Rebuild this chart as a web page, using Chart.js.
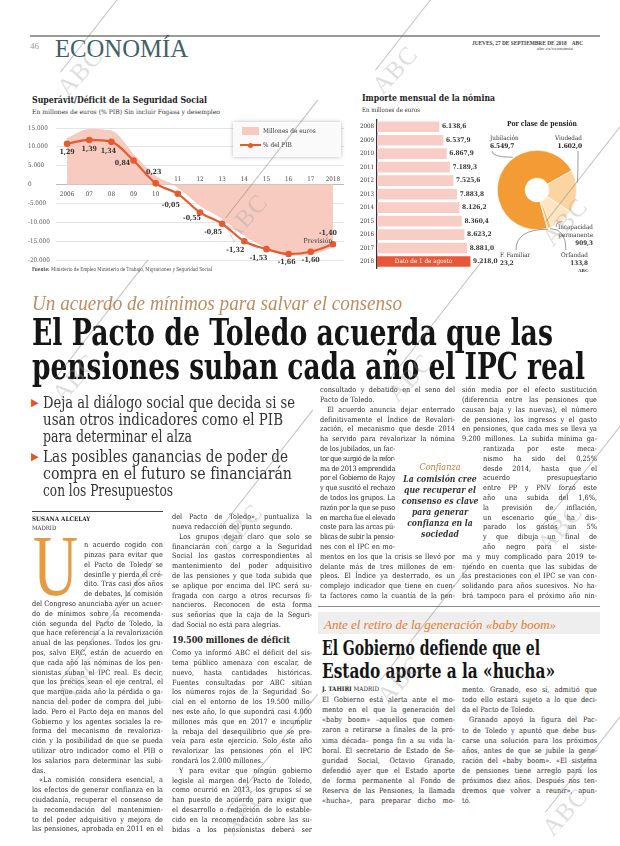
<!DOCTYPE html>
<html lang="es">
<head>
<meta charset="utf-8">
<title>ABC Economía 46</title>
<script src="https://cdn.jsdelivr.net/npm/chart.js@4.4.1/dist/chart.umd.min.js"></script>
<style>
  html, body { margin: 0; padding: 0; background: #fff; }
  #page { position: relative; width: 620px; height: 846px; overflow: hidden; background: #fff; color: #222;
    font-family: "DejaVu Serif Condensed", "DejaVu Serif", serif; }
  .t { position: absolute; white-space: nowrap; line-height: 1; }
  .fit { transform-origin: 0 50%; }
  .line { position: absolute; white-space: nowrap; font-size: 7.3px; line-height: 9.8px; color: #2a2a2a; }
  .line.just { text-align: justify; text-align-last: justify; }
  canvas { position: absolute; }
  .wm { position: absolute; width: 0; height: 0; }
  .wm span { position: absolute; left: 0; top: 0; transform: translate(-50%, -50%) rotate(-48deg);
    font: 25px "Liberation Serif", serif; color: rgba(160,160,160,0.35); letter-spacing: 1px; }
  .wm i { position: absolute; left: -20px; top: 0; width: 150px; height: 0; border-top: 0.7px solid rgba(120,120,120,0.45);
    transform-origin: 0 0; transform: rotate(-52deg); }
</style>
</head>
<body>
<div id="page">
  <!-- cabecera -->
  <div style="position:absolute;left:30px;top:35px;width:570px;height:1.5px;background:#9a9a9a"></div>
  <div class="t" style="left:30px;top:41px;font:9px 'Liberation Serif';color:#9a9a9a">46</div>
  <div class="t fit" data-w="133" style="left:55px;top:34px;font:26px 'Liberation Serif';color:#3f5f69">ECONOMÍA</div>
  <div class="t fit" data-w="111" style="left:472px;top:40px;font:bold 5.5px 'Liberation Serif';color:#444">JUEVES, 27 DE SEPTIEMBRE DE 2018 &nbsp;&nbsp; ABC</div>
  <div class="t fit" data-w="36" style="left:537px;top:46px;font:5px 'Liberation Serif';color:#444">abc.es/economia</div>

  <!-- gráfico 1 -->
  <div class="t fit" data-w="175" style="left:32px;top:95px;font-weight:bold;font-size:9.5px;color:#222">Superávit/Déficit de la Seguridad Social</div>
  <div class="t fit" data-w="188" style="left:32px;top:109px;font-size:6.3px;color:#333">En millones de euros (% PIB) Sin incluir Fogasa y desempleo</div>
  <canvas id="c1" width="322" height="160" style="left:28px;top:118px"></canvas>
  <div style="position:absolute;left:233px;top:122px;width:108px;height:35px;background:#fafafa;box-shadow:0 0 4px rgba(0,0,0,0.28)">
    <div style="position:absolute;left:9px;top:5px;width:17px;height:8px;background:#f8cbc0"></div>
    <div class="t" style="left:30px;top:6px;font-size:6.5px;color:#333">Millones de euros</div>
    <div style="position:absolute;left:7px;top:22px;width:21px;height:2px;background:#e75a2f"></div>
    <div style="position:absolute;left:15px;top:20.5px;width:5px;height:5px;border-radius:50%;background:#e75a2f"></div>
    <div class="t" style="left:30px;top:20px;font-size:6.5px;color:#333">% del PIB</div>
  </div>
  <div class="t fit" data-w="180" style="left:32px;top:267px;font-size:5.5px;color:#444"><b>Fuente:</b> Ministerio de Empleo Ministerio de Trabajo, Migraciones y Seguridad Social</div>

  <!-- gráfico 2 -->
  <div class="t fit" data-w="133" style="left:362px;top:93px;font-weight:bold;font-size:9.5px;color:#222">Importe mensual de la nómina</div>
  <div class="t fit" data-w="58" style="left:362px;top:107px;font-size:6.3px;color:#333">En millones de euros</div>
  <canvas id="c2" width="150" height="156" style="left:355px;top:116px"></canvas>

  <!-- gráfico 3 -->
  <div class="t fit" data-w="70" style="left:507px;top:119px;font-weight:bold;font-size:8px;color:#222">Por clase de pensión</div>
  <canvas id="c3" width="130" height="140" style="left:470px;top:128px"></canvas>
  <div class="t" style="left:490px;top:135px;font-size:6.3px;color:#333">Jubilación</div>
  <div class="t" style="left:490px;top:143px;font-size:6.5px;font-weight:bold;color:#222">6.549,7</div>
  <div class="t" style="right:38px;top:135px;font-size:6.3px;color:#333;text-align:right">Viudedad</div>
  <div class="t" style="right:38px;top:143px;font-size:6.5px;font-weight:bold;color:#222">1.602,0</div>
  <div class="t" style="right:27px;top:223px;font-size:6.3px;color:#333;text-align:right;line-height:8px">Incapacidad<br>permanente<br><b>909,3</b></div>
  <div class="t" style="left:500px;top:251px;font-size:6.3px;color:#333;line-height:8px">F. Familiar<br><b>23,2</b></div>
  <div class="t" style="right:32px;top:251px;font-size:6.3px;color:#333;text-align:right;line-height:8px">Orfandad<br><b>133,8</b></div>
  <div class="t" style="left:578px;top:268px;font:bold 5px 'Liberation Serif';color:#333">ABC</div>

  <!-- titulares -->
  <div class="t fit" data-w="370" style="left:32px;top:292px;font:italic 20px 'Liberation Serif';color:#bf8c5f">Un acuerdo de mínimos para salvar el consenso</div>
  <div class="t fit" data-w="521" style="left:32px;top:314px;font-weight:bold;font-size:37px;color:#151515">El Pacto de Toledo acuerda que las</div>
  <div class="t fit" data-w="553" style="left:32px;top:348px;font-weight:bold;font-size:37px;color:#151515">pensiones suban cada año el IPC real</div>

  <div class="t" style="left:31px;top:397px;font-size:11px;color:#e0552a">▶</div>
  <div class="t fit" data-w="252" style="left:43px;top:394px;font-size:17px;color:#333">Deja al diálogo social que decida si se</div>
  <div class="t fit" data-w="240" style="left:43px;top:411px;font-size:17px;color:#333">usan otros indicadores como el PIB</div>
  <div class="t fit" data-w="149" style="left:43px;top:428px;font-size:17px;color:#333">para determinar el alza</div>
  <div class="t" style="left:31px;top:451px;font-size:11px;color:#e0552a">▶</div>
  <div class="t fit" data-w="245" style="left:43px;top:448px;font-size:17px;color:#333">Las posibles ganancias de poder de</div>
  <div class="t fit" data-w="249" style="left:43px;top:465px;font-size:17px;color:#333">compra en el futuro se financiarán</div>
  <div class="t fit" data-w="130" style="left:43px;top:482px;font-size:17px;color:#333">con los Presupuestos</div>

  <!-- firma y capitular -->
  <div style="position:absolute;left:32px;top:511px;width:131px;height:1px;background:#444"></div>
  <div class="t" style="left:32px;top:516px;font-size:6.3px;font-weight:bold;color:#222">SUSANA ALCELAY</div>
  <div class="t" style="left:32px;top:525px;font-size:6px;color:#333">MADRID</div>
  <div class="t fit" data-w="45" style="left:33px;top:538px;font:86px/56px 'Liberation Serif';color:#e69a43">U</div>

  <div class="t fit" data-w="118" style="left:172px;top:635px;font-weight:bold;font-size:10px;color:#222">19.500 millones de déficit</div>

  <!-- destacado -->
  <div class="t" style="left:440px;top:462px;font:italic 9px 'DejaVu Serif Condensed';color:#c27a3a;transform:translateX(-50%)">Confianza</div>
  <div class="t" style="left:440px;top:474px;font-style:italic;font-weight:bold;font-size:8.6px;line-height:11px;color:#333;text-align:center;transform:translateX(-50%)">La comisión cree<br>que recuperar el<br>consenso es clave<br>para generar<br>confianza en la<br>sociedad</div>

  <!-- recuadro -->
  <div style="position:absolute;left:318px;top:606px;width:282px;height:1px;background:#888"></div>
  <div style="position:absolute;left:318px;top:612px;width:282px;height:22px;background:#eeeeee"></div>
  <div class="t fit" data-w="232" style="left:324px;top:617px;font:italic 13px 'Liberation Serif';color:#e27b2e">Ante el retiro de la generación «baby boom»</div>
  <div class="t fit" data-w="218" style="left:322px;top:638px;font-weight:bold;font-size:20px;color:#151515">El Gobierno defiende que el</div>
  <div class="t fit" data-w="233" style="left:322px;top:661px;font-weight:bold;font-size:20px;color:#151515">Estado aporte a la «hucha»</div>
  <div class="t" style="left:322px;top:686px;font-size:6.3px;color:#222"><b>J. TAHIRI</b> MADRID</div>
</div>

<script>
// ---- datos ----
const years = ['2006', '07', '08', '09', '10', '11', '12', '13', '14', '15', '16', '17', '2018'];
const balanceMill = [12200, 14600, 14200, 8000, 2200, -700, -5500, -9000, -13500, -16700, -18700, -18500, -16500];
const pibPct = [1.29, 1.39, 1.34, 0.84, 0.23, -0.05, -0.55, -0.85, -1.32, -1.53, -1.66, -1.60, -1.40];

const nominaYears = ['2008', '2009', '2010', '2011', '2012', '2013', '2014', '2015', '2016', '2017', '2018'];
const nominaValues = [6138.6, 6537.9, 6867.9, 7189.3, 7525.6, 7883.8, 8126.2, 8360.4, 8623.2, 8881.0, 9218.0];

const pensionTypes = ['Jubilación', 'Viudedad', 'Incapacidad permanente', 'Orfandad', 'F. Familiar'];
const pensionValues = [6549.7, 1602.0, 909.3, 133.8, 23.2];

const SERIF = '"DejaVu Serif Condensed", "DejaVu Serif", serif';
const page = document.getElementById('page');

function fmt(v, d) {
  const s = Math.abs(v).toFixed(d).split('.');
  const int = s[0].replace(/\B(?=(\d{3})+(?!\d))/g, '.');
  return (v < 0 ? '-' : '') + int + (d ? ',' + s[1] : '');
}

// ---- textos del artículo ----
const col1 = [
  'n acuerdo cogido con', 'pinzas para evitar que', 'el Pacto de Toledo se', 'desinfle y pierda el cré-',
  'dito. Tras casi dos años', 'de debates, la comisión',
  'del Congreso anunciaba ayer un acuer-', 'do de mínimos sobre la recomenda-', 'ción segunda del Pacto de Toledo, la',
  'que hace referencia a la revalorización', 'anual de las pensiones. Todos los gru-', 'pos, salvo ERC, están de acuerdo en',
  'que cada año las nóminas de los pen-', 'sionistas suban el IPC real. Es decir,', 'que los precios sean el eje central, el',
  'que marque cada año la pérdida o ga-', 'nancia del poder de compra del jubi-', 'lado. Pero el Pacto deja en manos del',
  'Gobierno y los agentes sociales la re-', 'forma del mecanismo de revaloriza-', 'ción y la posibilidad de que se pueda',
  'utilizar otro indicador como el PIB o', 'los salarios para determinar las subi-', 'das.~',
  '\t«La comisión considera esencial, a', 'los efectos de generar confianza en la', 'ciudadanía, recuperar el consenso de',
  'la recomendación del mantenimien-', 'to del poder adquisitivo y mejora de', 'las pensiones, aprobada en 2011 en el'
];
const col2 = [
  'del Pacto de Toledo», puntualiza la', 'nueva redacción del punto segundo.~',
  '\tLos grupos dejan claro que solo se', 'financiarán con cargo a la Seguridad', 'Social los gastos correspondientes al',
  'mantenimiento del poder adquisitivo', 'de las pensiones y que toda subida que', 'se aplique por encima del IPC será su-',
  'fragada con cargo a otros recursos fi-', 'nancieros. Reconocen de esta forma', 'sus señorías que la caja de la Seguri-',
  'dad Social no está para alegrías.~'
];
const col2b = [
  'Como ya informó ABC el déficit del sis-', 'tema público amenaza con escalar, de', 'nuevo, hasta cantidades históricas.',
  'Fuentes consultadas por ABC sitúan', 'los números rojos de la Seguridad So-', 'cial en el entorno de los 19.500 millo-',
  'nes este año, lo que supondrá casi 4.000', 'millones más que en 2017 e incumplir', 'la rebaja del desequilibrio que se pre-',
  'veía para este ejercicio. Solo este año', 'revalorizar las pensiones con el IPC', 'rondará los 2.000 millones.~',
  '\tY para evitar que ningún gobierno', 'legisle al margen del Pacto de Toledo,', 'como ocurrió en 2013, los grupos sí se',
  'han puesto de acuerdo para exigir que', 'el desarrollo o redacción de lo estable-', 'cido en la recomendación sobre las su-',
  'bidas a los pensionistas deberá ser'
];
const col3 = [
  'consultado y debatido en el seno del', 'Pacto de Toledo.~',
  '\tEl acuerdo anuncia dejar enterrado', 'definitivamente el Índice de Revalori-', 'zación, el mecanismo que desde 2014',
  'ha servido para revalorizar la nómina', 'de los jubilados, un fac-', 'tor que surgió de la refor-', 'ma de 2013 emprendida',
  'por el Gobierno de Rajoy', 'y que suscitó el rechazo', 'de todos los grupos. La', 'razón por la que se puso',
  'en marcha fue el elevado', 'coste para las arcas pú-', 'blicas de subir la pensio-', 'nes con el IPC en mo-',
  'mentos en los que la crisis se llevó por', 'delante más de tres millones de em-', 'pleos. El Índice ya desterrado, es un',
  'complejo indicador que tiene en cuen-', 'ta factores como la cuantía de la pen-'
];
const col4 = [
  'sión media por el efecto sustitución', '(diferencia entre las pensiones que', 'causan baja y las nuevas), el número',
  'de pensiones, los ingresos y el gasto', 'en pensiones, que cada mes se lleva ya', '9.200 millones. La subida mínima ga-',
  'rantizada por este meca-', 'nismo ha sido del 0,25%', 'desde 2014, hasta que el', 'acuerdo presupuestario',
  'entre PP y PNV forzó este', 'año una subida del 1,6%,', 'la previsión de inflación,', 'un escenario que ha dis-',
  'parado los gastos un 5%', 'y que dibuja un final de', 'año negro para el siste-',
  'ma y muy complicado para 2019 te-', 'niendo en cuenta que las subidas de', 'las prestaciones con el IPC se van con-',
  'solidando para años sucesivos. No ha-', 'brá tampoco para el próximo año nin-'
];
const boxA = [
  'El Gobierno está alerta ante el mo-', 'mento en el que la generación del', '«baby boom» –aquellos que comen-',
  'zaron a retirarse a finales de la pró-', 'xima década– ponga fin a su vida la-', 'boral. El secretario de Estado de Se-',
  'guridad Social, Octavio Granado,', 'defendió ayer que el Estado aporte', 'de forma permanente al Fondo de',
  'Reserva de las Pensiones, la llamada', '«hucha», para preparar dicho mo-'
];
const boxB = [
  'mento. Granado, eso sí, admitió que', 'todo ello estará sujeto a lo que deci-', 'da el Pacto de Toledo.~',
  '\tGranado apoyó la figura del Pac-', 'to de Toledo y apuntó que debe bus-', 'carse una solución para los próximos',
  'años, antes de que se jubile la gene-', 'ración del «baby boom». «El sistema', 'de pensiones tiene arreglo para los',
  'próximos diez años. Después nos ten-', 'dremos que volver a reunir», apun-', 'tó.~'
];

function column(lines, o) {
  const lh = o.lh || 9.8;
  lines.forEach((raw, i) => {
    const indent = raw.startsWith('\t');
    const last = raw.endsWith('~');
    const text = raw.replace(/^\t/, '').replace(/~$/, '');
    let x = o.x, w = o.w;
    if (o.wrap && i >= o.wrap[0] && i <= o.wrap[1]) { x = o.wrap[2]; w = o.wrap[3]; }
    const div = document.createElement('div');
    div.className = 'line';
    div.style.left = x + 'px';
    div.style.top = (o.y + i * lh - 4.9) + 'px';
    if (indent) div.style.textIndent = '7px';
    div.textContent = text;
    page.appendChild(div);
    const nat = div.getBoundingClientRect().width;
    if (nat > w - 0.6) div.style.letterSpacing = ((w - 0.6 - nat) / text.length) + 'px';
    div.style.width = w + 'px';
    div.style.whiteSpace = 'normal';
    if (!last) div.classList.add('just');
  });
}

column(col1, { x: 32, w: 131, y: 545, wrap: [0, 5, 84, 79] });
column(col2, { x: 172, w: 140, y: 517 });
column(col2b, { x: 172, w: 140, y: 653 });
column(col3, { x: 320, w: 135, y: 390, wrap: [6, 16, 320, 75] });
column(col4, { x: 462, w: 135, y: 390, wrap: [6, 16, 483, 114] });
column(boxA, { x: 322, w: 133, y: 700, lh: 10.1 });
column(boxB, { x: 462, w: 135, y: 690, lh: 10.1 });

document.querySelectorAll('.fit').forEach(el => {
  const nat = el.getBoundingClientRect().width;
  el.style.transform = `scaleX(${(+el.dataset.w / nat).toFixed(4)})`;
});

// marcas de agua
[[80, 72], [395, 70], [245, 218], [565, 222], [75, 378], [410, 378], [240, 528], [560, 528],
 [80, 680], [400, 680], [245, 812], [565, 812]].forEach(([x, y]) => {
  const d = document.createElement('div');
  d.className = 'wm';
  d.style.left = x + 'px';
  d.style.top = y + 'px';
  d.innerHTML = '<i></i><span>ABC</span>';
  page.appendChild(d);
});

// ---- gráfico 1: superávit/déficit ----
const pibLabelOffset = [[0, 8], [0, 9], [-3, 9], [-11, 3], [-2, -11], [-7, 11], [-8, 6], [-9, 8],
  [-9, 9], [-8, 9], [-2, 8], [0, 8], [-5, -11]];

const c1Labels = {
  id: 'c1Labels',
  afterDatasetsDraw(chart) {
    const { ctx, scales: { x, y } } = chart;
    const zero = y.getPixelForValue(0);
    ctx.save();
    ctx.textAlign = 'center';
    ctx.textBaseline = 'middle';
    ctx.font = `6.3px ${SERIF}`;
    ctx.fillStyle = '#444';
    years.forEach((lab, i) => {
      ctx.fillText(lab, x.getPixelForValue(i), balanceMill[i] >= 0 ? zero + 9.5 : zero - 5);
    });
    const meta = chart.getDatasetMeta(0);
    ctx.font = `bold 7px ${SERIF}`;
    ctx.fillStyle = '#333';
    meta.data.forEach((pt, i) => {
      const [dx, dy] = pibLabelOffset[i];
      ctx.fillText(fmt(pibPct[i], 2), pt.x + dx, pt.y + dy);
    });
    const lastPt = meta.data[meta.data.length - 1];
    ctx.font = `6.8px ${SERIF}`;
    ctx.fillText('Previsión', lastPt.x - 15, lastPt.y - 3);
    ctx.restore();
  }
};

new Chart(document.getElementById('c1'), {
  data: {
    labels: years,
    datasets: [
      { type: 'line', label: '% del PIB', data: pibPct, yAxisID: 'y2', order: 0,
        borderColor: '#e75a2f', backgroundColor: '#e75a2f', borderWidth: 2.2,
        pointRadius: 2.2, pointHoverRadius: 2.2, cubicInterpolationMode: 'monotone' },
      { type: 'line', label: 'Millones de euros', data: balanceMill, yAxisID: 'y', order: 1,
        fill: 'origin', backgroundColor: '#f8cbc0', borderColor: '#f4b9ab', borderWidth: 0.6,
        pointRadius: 0, cubicInterpolationMode: 'monotone' }
    ]
  },
  options: {
    responsive: false, animation: false, devicePixelRatio: 1,
    layout: { padding: { top: 10, bottom: 18, left: 0, right: 6 } },
    plugins: { legend: { display: false }, tooltip: { enabled: false } },
    scales: {
      x: { display: false, offset: true },
      y: {
        min: -20000, max: 15000,
        ticks: { stepSize: 5000, callback: v => fmt(v, 0), font: { family: SERIF, size: 6.3 }, color: '#555',
          crossAlign: 'far', padding: 0 },
        grid: { color: c => c.tick && c.tick.value === 0 ? '#a8a8a8' : '#dedede', lineWidth: 0.8, drawTicks: false },
        border: { display: false },
        afterFit: s => { s.width = 28; }
      },
      y2: { display: false, min: -1.82, max: 1.71 }
    }
  },
  plugins: [c1Labels]
});

// ---- gráfico 2: importe mensual ----
const c2Labels = {
  id: 'c2Labels',
  afterDatasetsDraw(chart) {
    const { ctx } = chart;
    const meta = chart.getDatasetMeta(0);
    ctx.save();
    ctx.textBaseline = 'middle';
    ctx.textAlign = 'left';
    ctx.font = `bold 6.5px ${SERIF}`;
    ctx.fillStyle = '#333';
    meta.data.forEach((bar, i) => ctx.fillText(fmt(nominaValues[i], 1), bar.x + 3, bar.y));
    const lastBar = meta.data[meta.data.length - 1];
    ctx.font = `6.3px ${SERIF}`;
    ctx.fillStyle = '#fff';
    ctx.textAlign = 'center';
    ctx.fillText('Dato de 1 de agosto', (lastBar.base + lastBar.x) / 2, lastBar.y);
    ctx.restore();
  }
};

new Chart(document.getElementById('c2'), {
  type: 'bar',
  data: {
    labels: nominaYears,
    datasets: [{ data: nominaValues, barThickness: 10,
      backgroundColor: nominaYears.map((y, i) => i === nominaYears.length - 1 ? '#e8573a' : '#f8cdc6') }]
  },
  options: {
    indexAxis: 'y', responsive: false, animation: false, devicePixelRatio: 1,
    layout: { padding: { top: 4, bottom: 3, left: 5, right: 27 } },
    plugins: { legend: { display: false }, tooltip: { enabled: false } },
    scales: {
      x: { display: false, min: 0, max: 10000 },
      y: {
        ticks: { font: { family: SERIF, size: 6.2 }, color: '#333', crossAlign: 'far', padding: 0 },
        grid: { display: false, drawTicks: false },
        border: { display: true, color: '#333', width: 1.3 },
        afterFit: s => { s.width = 17; }
      }
    }
  },
  plugins: [c2Labels]
});

// ---- gráfico 3: por clase de pensión ----
const leaderFrom = [[22, 23], [108, 23], [86, 99], [96, 122], [46, 122]];
const leaderAt = [0.62, 0.3, 0.5, 0.5, 0.5];
const c3Leaders = {
  id: 'c3Leaders',
  afterDatasetsDraw(chart) {
    const { ctx } = chart;
    const meta = chart.getDatasetMeta(0);
    ctx.save();
    ctx.strokeStyle = '#555';
    ctx.lineWidth = 0.6;
    meta.data.forEach((arc, i) => {
      const a = arc.startAngle + (arc.endAngle - arc.startAngle) * leaderAt[i];
      const r = arc.outerRadius + 1;
      const tx = arc.x + Math.cos(a) * r, ty = arc.y + Math.sin(a) * r;
      const [fx, fy] = leaderFrom[i];
      ctx.beginPath();
      ctx.moveTo(fx, fy);
      ctx.quadraticCurveTo(fx, ty, tx, ty);
      ctx.stroke();
    });
    ctx.restore();
  }
};

new Chart(document.getElementById('c3'), {
  type: 'doughnut',
  data: {
    labels: pensionTypes,
    datasets: [{ data: pensionValues, borderColor: '#fff', borderWidth: 0.6,
      backgroundColor: ['#f39c35', '#fbd4a2', '#fde4c2', '#f7bb6a', '#e98a2a'] }]
  },
  options: {
    responsive: false, animation: false, devicePixelRatio: 1,
    rotation: 165, cutout: '30%',
    layout: { padding: { top: 22, bottom: 38, left: 27, right: 23 } },
    plugins: { legend: { display: false }, tooltip: { enabled: false } }
  },
  plugins: [c3Leaders]
});
</script>
</body>
</html>
